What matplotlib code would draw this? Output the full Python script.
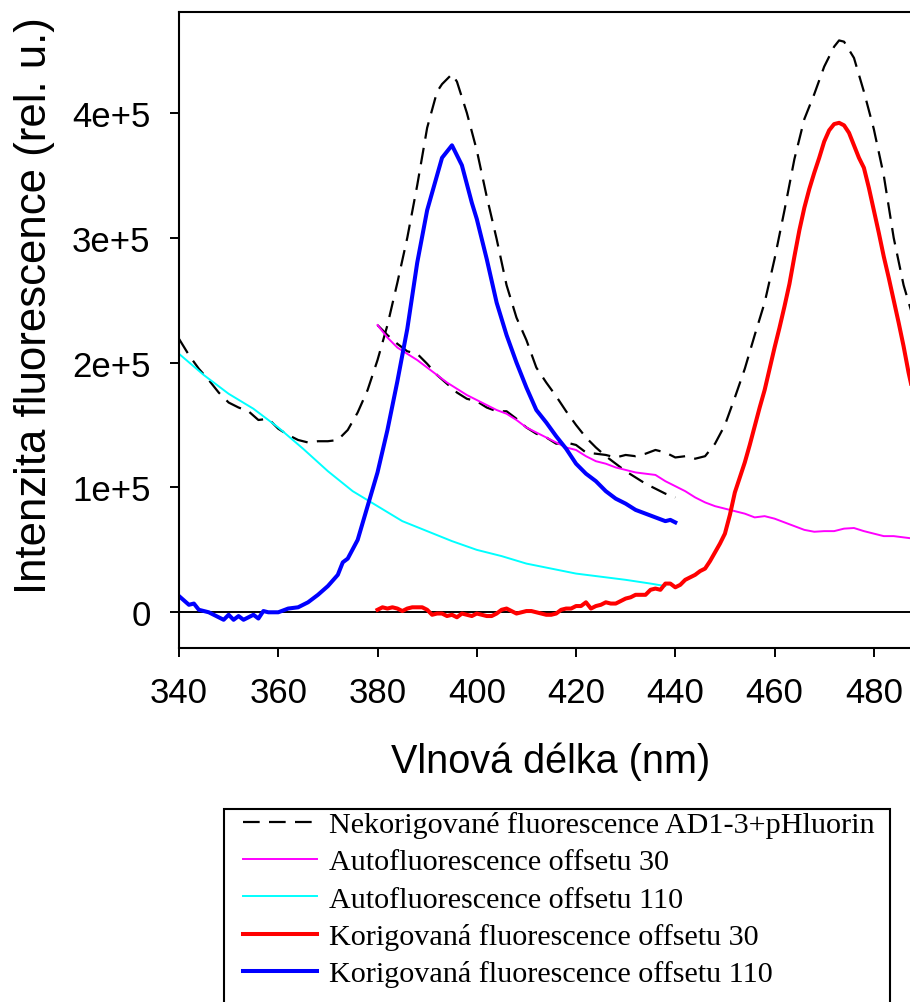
import matplotlib
matplotlib.use("Agg")
import matplotlib.pyplot as plt
from matplotlib.patches import Rectangle
import numpy as np

# ---------------- data ----------------
# uncorrected spectrum, offset 110 region
wl_raw110 = [340, 342, 344, 346, 348, 350, 352, 354, 356, 358, 360, 362, 364, 366, 368,
             370, 372, 374, 376, 378, 380, 382, 384, 386, 388, 390, 392, 393, 394, 395,
             396, 398, 400, 402, 404, 406, 408, 410, 412, 414, 416, 418, 420, 422, 424,
             426, 428, 430, 432, 434, 436, 438, 440]
raw110 = [2.19, 2.06, 1.95, 1.86, 1.76, 1.68, 1.64, 1.61, 1.54, 1.55, 1.47, 1.42, 1.38, 1.36, 1.37,
          1.37, 1.38, 1.46, 1.60, 1.78, 2.02, 2.30, 2.64, 3.00, 3.42, 3.88, 4.17, 4.23, 4.27, 4.31,
          4.25, 4.00, 3.70, 3.33, 2.99, 2.62, 2.36, 2.18, 1.96, 1.84, 1.73, 1.61, 1.50, 1.40, 1.32,
          1.25, 1.19, 1.13, 1.08, 1.03, 0.99, 0.95, 0.92]

# uncorrected spectrum, offset 30 region
wl_raw30 = [380, 382, 384, 386, 388, 390, 392, 394, 396, 398, 400, 402, 404, 406, 408,
            410, 412, 414, 416, 418, 420, 422, 424, 426, 428, 430, 432, 434, 436, 438,
            440, 442, 444, 446, 448, 450, 452, 454, 456, 458, 460, 462, 464, 466, 468,
            470, 472, 473, 474, 476, 478, 480, 482, 484, 486, 488]
raw30 = [2.30, 2.22, 2.15, 2.09, 2.07, 1.99, 1.90, 1.83, 1.76, 1.71, 1.69, 1.64, 1.61, 1.61, 1.55,
         1.48, 1.43, 1.40, 1.35, 1.36, 1.34, 1.28, 1.27, 1.26, 1.24, 1.26, 1.25, 1.27, 1.30, 1.28,
         1.24, 1.25, 1.23, 1.25, 1.35, 1.50, 1.72, 1.95, 2.22, 2.48, 2.83, 3.22, 3.63, 3.95, 4.15,
         4.37, 4.53, 4.58, 4.57, 4.44, 4.17, 3.87, 3.50, 3.00, 2.62, 2.35]

# autofluorescence, offset 30
wl_auto30 = [380, 382, 384, 386, 388, 390, 392, 394, 396, 398, 400, 402, 404, 406, 408,
             410, 412, 414, 416, 418, 420, 422, 424, 426, 428, 430, 432, 434, 436, 438,
             440, 442, 444, 446, 448, 450, 452, 454, 456, 458, 460, 462, 464, 466, 468,
             470, 472, 474, 476, 478, 480, 482, 484, 486, 488]
auto30 = [2.30, 2.20, 2.12, 2.07, 2.02, 1.96, 1.90, 1.84, 1.79, 1.74, 1.70, 1.66, 1.62, 1.59, 1.54,
          1.48, 1.44, 1.40, 1.36, 1.32, 1.30, 1.25, 1.21, 1.19, 1.16, 1.14, 1.12, 1.11, 1.10, 1.05,
          1.01, 0.97, 0.92, 0.88, 0.85, 0.83, 0.81, 0.79, 0.76, 0.77, 0.75, 0.72, 0.69, 0.66, 0.645,
          0.65, 0.65, 0.67, 0.675, 0.65, 0.63, 0.61, 0.61, 0.60, 0.59]

# autofluorescence, offset 110
wl_auto110 = [340, 345, 350, 355, 360, 365, 370, 375, 380, 385, 390, 395, 400, 405, 410,
              415, 420, 425, 430, 435, 438]
auto110 = [2.07, 1.90, 1.75, 1.63, 1.48, 1.31, 1.13, 0.97, 0.85, 0.73, 0.65, 0.57, 0.50, 0.45, 0.39,
           0.35, 0.31, 0.285, 0.26, 0.23, 0.21]

# corrected spectrum, offset 30
wl_corr30 = list(range(380, 489))
corr30 = [0.02, 0.04, 0.03, 0.04, 0.03, 0.01, 0.03, 0.04, 0.04, 0.04,
          0.02, -0.02, -0.01, -0.01, -0.03, -0.02, -0.04, -0.01, -0.02, -0.03,
          -0.01, -0.02, -0.03, -0.03, -0.01, 0.02, 0.03, 0.01, -0.01, 0.00,
          0.01, 0.01, 0.00, -0.01, -0.02, -0.02, -0.01, 0.02, 0.03, 0.03,
          0.05, 0.05, 0.08, 0.03, 0.05, 0.06, 0.08, 0.07, 0.07, 0.09,
          0.11, 0.12, 0.14, 0.14, 0.14, 0.18, 0.19, 0.18, 0.23, 0.23,
          0.20, 0.22, 0.26, 0.28, 0.30, 0.33, 0.35, 0.41, 0.48, 0.55,
          0.63, 0.78, 0.96, 1.08, 1.20, 1.34, 1.49, 1.64, 1.78, 1.95,
          2.12, 2.28, 2.45, 2.63, 2.85, 3.06, 3.24, 3.39, 3.52, 3.64,
          3.77, 3.86, 3.91, 3.92, 3.90, 3.84, 3.74, 3.64, 3.56, 3.40,
          3.22, 3.04, 2.85, 2.68, 2.50, 2.32, 2.13, 1.92, 1.74]

# corrected spectrum, offset 110
wl_corr110 = [340, 342, 343, 344, 346, 348, 349, 350, 351, 352, 353, 355, 356, 357, 358,
              360, 362, 364, 366, 368, 370, 372, 373, 374, 376, 378, 380, 382, 384, 386,
              388, 390, 392, 393, 395, 397, 399, 400, 402, 404, 406, 408, 410, 412, 414,
              416, 418, 420, 422, 424, 426, 428, 430, 432, 434, 436, 438, 439, 440]
corr110 = [0.13, 0.06, 0.07, 0.02, 0.00, -0.04, -0.06, -0.02, -0.06, -0.03, -0.06, -0.02, -0.05, 0.01, 0.00,
           0.00, 0.03, 0.04, 0.08, 0.14, 0.21, 0.30, 0.40, 0.43, 0.58, 0.85, 1.12, 1.46, 1.85, 2.27,
           2.80, 3.22, 3.50, 3.64, 3.74, 3.58, 3.28, 3.15, 2.83, 2.48, 2.22, 2.00, 1.80, 1.62, 1.52,
           1.41, 1.31, 1.19, 1.11, 1.05, 0.97, 0.91, 0.87, 0.82, 0.79, 0.76, 0.73, 0.74, 0.72]

SCALE = 1e5
xticks = [340, 360, 380, 400, 420, 440, 460, 480]
yticks = [0, 1e5, 2e5, 3e5, 4e5]
ytick_labels = ["0", "1e+5", "2e+5", "3e+5", "4e+5"]

labels = ["Nekorigované fluorescence AD1-3+pHluorin",
          "Autofluorescence offsetu 30",
          "Autofluorescence offsetu 110",
          "Korigovaná fluorescence offsetu 30",
          "Korigovaná fluorescence offsetu 110"]

# ---------------- figure ----------------
W, H = 910, 1003
fig = plt.figure(figsize=(W / 100, H / 100), dpi=100)

ax_left, ax_top, ax_bottom = 179, 12.7, 649
xmin, xmax = 340, 490
px_per_nm = 4.963
ax_w = (xmax - xmin) * px_per_nm
ax = fig.add_axes([ax_left / W, 1 - ax_bottom / H, ax_w / W, (ax_bottom - ax_top) / H])

def sc(v):
    return np.asarray(v) * SCALE

dash = (7.5, 4.2)
l1, = ax.plot(wl_raw110, sc(raw110), color="black", lw=1.6, dashes=dash)
ax.plot(wl_raw30, sc(raw30), color="black", lw=1.6, dashes=dash)
l2, = ax.plot(wl_auto30, sc(auto30), color="#ff00ff", lw=1.4)
l3, = ax.plot(wl_auto110, sc(auto110), color="#00ffff", lw=1.4)
l4, = ax.plot(wl_corr30, sc(corr30), color="#ff0000", lw=2.9)
l5, = ax.plot(wl_corr110, sc(corr110), color="#0000ff", lw=2.9)

ax.axhline(0, color="black", lw=1.4, zorder=1)

ax.set_xlim(xmin, xmax)
ax.set_ylim(-28600, 481000)

ax.spines["right"].set_visible(False)
for s in ("left", "top", "bottom"):
    ax.spines[s].set_linewidth(1.5)

ax.set_xticks(xticks)
ax.set_yticks(yticks)
ax.set_yticklabels(ytick_labels)
ax.tick_params(direction="out", length=6.5, width=1.4, labelsize=25)
ax.tick_params(axis="x", pad=14)
ax.tick_params(axis="y", pad=14)
for t in ax.get_xticklabels() + ax.get_yticklabels():
    t.set_fontfamily("Liberation Sans")

fig.text(551 / W, 1 - 762 / H, "Vlnová délka (nm)", ha="center", va="center",
         fontsize=28.5, family="Liberation Sans")
fig.text(35 / W, 1 - 306 / H, "Intenzita fluorescence (rel. u.)", ha="center", va="center",
         rotation=90, fontsize=31.5, family="Liberation Sans")

# legend entries without their own frame; the box is drawn separately and runs
# past the lower edge of the figure
leg = fig.legend([l1, l2, l3, l4, l5], labels, loc="upper left",
                 bbox_to_anchor=(243 / W, 1 - 812 / H), borderaxespad=0,
                 prop={"family": "Liberation Serif", "size": 21.7},
                 frameon=False, handlelength=2.45, handletextpad=0.4,
                 labelspacing=0.34, borderpad=0.0)

box = Rectangle((224 / W, -0.05), (890 - 224) / W, (1003 - 810) / H + 0.05,
                transform=fig.transFigure, fill=False, edgecolor="black",
                linewidth=1.5, clip_on=False)
fig.add_artist(box)

fig.savefig("out.png", dpi=100)
